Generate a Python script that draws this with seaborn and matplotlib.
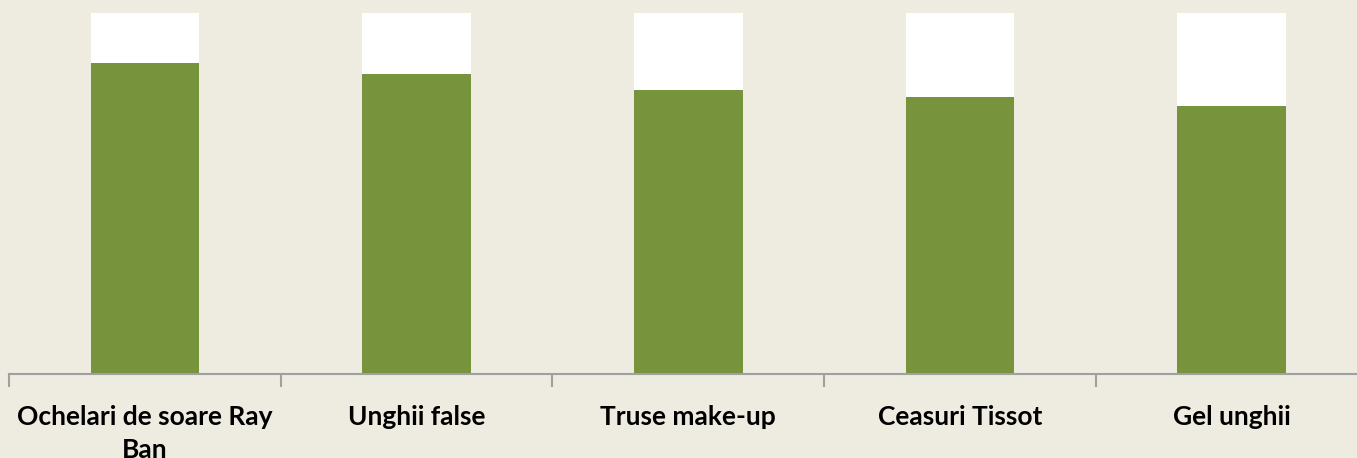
import matplotlib.pyplot as plt
import seaborn as sns
import pandas as pd

# Date (procente)
categorii = ["Ochelari de soare Ray\nBan", "Unghii false", "Truse make-up", "Ceasuri Tissot", "Gel unghii"]
valori = [86.1, 83.1, 78.7, 76.7, 74.2]
total = [100, 100, 100, 100, 100]

VERDE = "#77933C"
FUNDAL = "#EEEBE0"

sns.set_theme(style="white")
plt.rcParams["font.family"] = ["Lato", "DejaVu Sans"]

df = pd.DataFrame({"categorie": categorii, "valoare": valori, "total": total})

fig = plt.figure(figsize=(13.57, 4.58), dpi=100, facecolor=FUNDAL)
ax = fig.add_axes([9 / 1357, 84 / 458, 1358.6 / 1357, 361 / 458])
ax.set_facecolor(FUNDAL)

sns.barplot(data=df, x="categorie", y="total", color="white", width=0.4,
            saturation=1, linewidth=0, ax=ax)
sns.barplot(data=df, x="categorie", y="valoare", color=VERDE, width=0.4,
            saturation=1, linewidth=0, ax=ax)

ax.set_xlim(-0.5, len(categorii) - 0.5)
ax.set_ylim(0, 100)
ax.set_xlabel("")
ax.set_ylabel("")
ax.set_yticks([])

for s in ["top", "right", "left"]:
    ax.spines[s].set_visible(False)
ax.spines["bottom"].set_color("#A0A0A0")
ax.spines["bottom"].set_linewidth(1.5)

# tick-uri intre categorii
ax.set_xticks([i - 0.5 for i in range(len(categorii) + 1)], minor=True)
ax.tick_params(axis="x", which="minor", bottom=True, length=9, width=1.5, color="#A0A0A0")
ax.tick_params(axis="x", which="major", bottom=False, pad=16)
for lbl in ax.get_xticklabels():
    lbl.set_fontsize(19)
    lbl.set_fontweight("bold")
    lbl.set_color("black")
    lbl.set_linespacing(1.45)

fig.savefig("out.png", dpi=100, facecolor=FUNDAL)
